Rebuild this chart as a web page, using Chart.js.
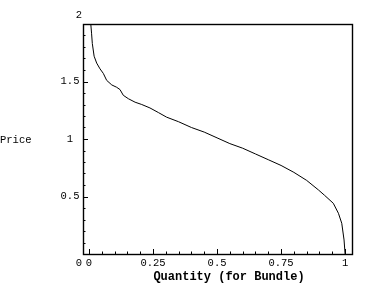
<!DOCTYPE html>
<html>
<head>
<meta charset="utf-8">
<script src="https://cdn.jsdelivr.net/npm/chart.js@4"></script>
<style>
  html, body { margin: 0; padding: 0; background: #fff; }
  #wrap { width: 370px; height: 294px; }
</style>
</head>
<body>
<div id="wrap"><canvas id="chart" width="370" height="294"></canvas></div>
<script>
// values
const quantity = [0.007, 0.010, 0.013, 0.020, 0.030, 0.043, 0.056, 0.069, 0.089, 0.108, 0.121, 0.134, 0.154, 0.180, 0.206, 0.238, 0.271, 0.303, 0.35, 0.40, 0.45, 0.50, 0.55, 0.60, 0.65, 0.70, 0.75, 0.80, 0.85, 0.896, 0.92, 0.954, 0.974, 0.987, 0.996, 1.0];
const price = [2.0, 1.92, 1.83, 1.72, 1.66, 1.61, 1.57, 1.51, 1.47, 1.45, 1.43, 1.38, 1.35, 1.32, 1.30, 1.27, 1.23, 1.19, 1.15, 1.10, 1.06, 1.01, 0.96, 0.92, 0.87, 0.82, 0.77, 0.71, 0.64, 0.557, 0.51, 0.441, 0.354, 0.267, 0.122, 0.0];

const xTicks = [0, 0.25, 0.5, 0.75, 1];
const xTickLabels = ['0', '0.25', '0.5', '0.75', '1'];
const yTicks = [0, 0.5, 1, 1.5, 2];
const yTickLabels = ['0', '0.5', '1', '1.5', '2'];
const xTitle = 'Quantity (for Bundle)';
const yTitle = 'Price';

const FONT = '"Liberation Mono", "DejaVu Sans Mono", monospace';

// frame, inward ticks and labels, Mathematica style
const framePlugin = {
    id: 'frame',
    afterDraw(chart) {
        const { ctx, chartArea: a, scales } = chart;
        const xs = scales.x, ys = scales.y;
        ctx.save();
        ctx.strokeStyle = '#000';
        ctx.lineWidth = 1.4;
        ctx.strokeRect(a.left + 0.5, a.top + 0.5, a.right - a.left, a.bottom - a.top);

        ctx.lineWidth = 1;
        ctx.beginPath();
        // bottom ticks
        for (let i = 0; i <= 20; i++) {
            const v = i * 0.05;
            const px = Math.round(xs.getPixelForValue(v)) + 0.5;
            const len = (i % 5 === 0) ? 5 : 2.5;
            ctx.moveTo(px, a.bottom);
            ctx.lineTo(px, a.bottom - len);
        }
        // left ticks
        for (let i = 0; i <= 20; i++) {
            const v = i * 0.1;
            const py = Math.round(ys.getPixelForValue(v)) + 0.5;
            const len = (i % 5 === 0) ? 5 : 2.5;
            ctx.moveTo(a.left, py);
            ctx.lineTo(a.left + len, py);
        }
        ctx.stroke();

        ctx.fillStyle = '#000';
        ctx.font = '10.5px ' + FONT;
        ctx.textBaseline = 'middle';
        ctx.textAlign = 'center';
        xTicks.forEach((v, i) => {
            ctx.fillText(xTickLabels[i], xs.getPixelForValue(v), a.bottom + 9);
        });
        yTicks.forEach((v, i) => {
            let py = ys.getPixelForValue(v);
            let px = 70;
            if (v === yTicks[0]) { py += 9; px = 79; }
            if (v === yTicks[yTicks.length - 1]) { py -= 9; px = 79; }
            ctx.fillText(yTickLabels[i], px, py);
        });

        ctx.textAlign = 'left';
        ctx.fillText(yTitle, 0, ys.getPixelForValue(1) + 1);
        ctx.font = 'bold 12px ' + FONT;
        ctx.textAlign = 'center';
        ctx.fillText(xTitle, 229, a.bottom + 23);
        ctx.restore();
    }
};

new Chart(document.getElementById('chart'), {
    type: 'scatter',
    data: {
        datasets: [{
            data: quantity.map((q, i) => ({ x: q, y: price[i] })),
            showLine: true,
            borderColor: '#000',
            borderWidth: 1,
            pointRadius: 0,
            tension: 0
        }]
    },
    options: {
        responsive: false,
        animation: false,
        layout: { padding: { left: 83, top: 24, right: 18, bottom: 40 } },
        plugins: { legend: { display: false }, tooltip: { enabled: false } },
        scales: {
            x: { type: 'linear', min: -0.0234, max: 1.027, display: false },
            y: { type: 'linear', min: 0, max: 2, display: false }
        }
    },
    plugins: [framePlugin]
});
</script>
</body>
</html>
